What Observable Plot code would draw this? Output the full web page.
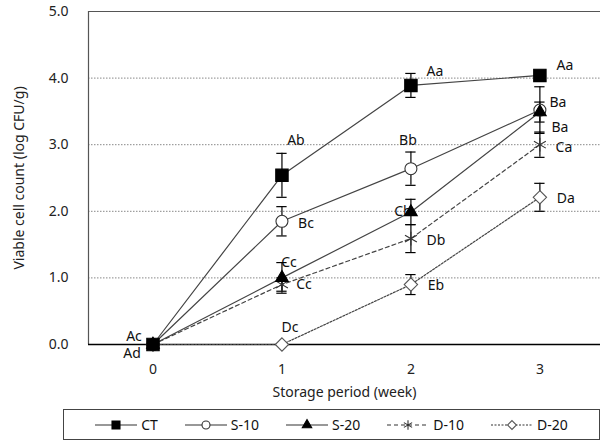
<!DOCTYPE html>
<html><head><meta charset="utf-8">
<script src="https://cdn.jsdelivr.net/npm/d3@7"></script>
<script src="https://cdn.jsdelivr.net/npm/@observablehq/plot@0.6"></script>
<style>
body{margin:0;background:#fff;font-family:"Noto Sans",sans-serif;}
#wrap{position:relative;width:602px;height:441px;overflow:hidden;}
#legend{position:absolute;left:63px;top:409px;width:537px;height:31px;border:1.5px solid #444;box-sizing:border-box;display:flex;align-items:center;justify-content:center;gap:27px;font-size:14px;color:#111;}
.item{display:flex;align-items:center;gap:4px;}
</style></head>
<body><div id="wrap"><div id="chart"></div><div id="legend"></div></div>
<script>
const weeks = [0, 1, 2, 3];
const seriesNames = ["CT", "S-10", "S-20", "D-10", "D-20"];
const meanCT  = [0, 2.54, 3.89, 4.04];
const meanS10 = [0, 1.85, 2.64, 3.52];
const meanS20 = [0, 1.00, 1.99, 3.49];
const meanD10 = [0, 0.90, 1.59, 3.00];
const meanD20 = [0, 0.00, 0.90, 2.21];
const sdCT  = [0, 0.33, 0.18, 0.05];
const sdS10 = [0, 0.22, 0.25, 0.35];
const sdS20 = [0, 0.23, 0.19, 0.15];
const sdD10 = [0, 0.10, 0.21, 0.19];
const sdD20 = [0, 0.00, 0.15, 0.21];
const lettersCT  = ["Ac", "Ab", "Aa", "Aa"];
const lettersS10 = ["", "Bc", "Bb", "Ba"];
const lettersS20 = ["", "Cc", "Cb", "Ba"];
const lettersD10 = ["", "Cc", "Db", "Ca"];
const lettersD20 = ["Ad", "Dc", "Eb", "Da"];
const yTicks = [0, 1, 2, 3, 4, 5];

const means = [meanCT, meanS10, meanS20, meanD10, meanD20];
const sds = [sdCT, sdS10, sdS20, sdD10, sdD20];
const letters = [lettersCT, lettersS10, lettersS20, lettersD10, lettersD20];

// styles
const styles = [
  {symbol: "square", r: 7, fill: "#000", stroke: "#000", dash: null, lr: 4.5},
  {symbol: "circle", r: 6, fill: "#fff", stroke: "#333", dash: null, lr: 4},
  {symbol: "triangle", r: 4.7, fill: "#000", stroke: "#000", dash: null, lr: 3.5},
  {symbol: "asterisk", r: 6.5, fill: "none", stroke: "#333", dash: "4,3", lr: 4.5},
  {symbol: "diamond2", r: 6, fill: "#fff", stroke: "#555", dash: "2,1.5", lr: 4}
];
const labelOffsets = [
  [[-19,-8],[14,-35],[24,-14],[25,-10]],
  [null,[24,2],[-3,-28],[18,-8]],
  [null,[7,-15],[-8,0],[20,15]],
  [null,[22,0],[25,2],[24,3]],
  [[-21,9],[8,-17],[25,1],[26,1]]
];

const rows = [];
seriesNames.forEach((s, i) => weeks.forEach((w, j) => rows.push({
  series: s, si: i, week: w, value: means[i][j], sd: sds[i][j], letter: letters[i][j], j
})));

const marks = [
  Plot.gridY([1,2,3,4], {stroke: "#888", strokeOpacity: 1, strokeDasharray: "1.5,1.5"}),
  Plot.ruleY([5], {stroke: "#555", strokeWidth: 1.2}),
  Plot.ruleX([-0.5], {stroke: "#555", strokeWidth: 1.2}),
  Plot.ruleY([0], {stroke: "#000", strokeWidth: 1.3}),
  Plot.axisY({ticks: yTicks, tickFormat: d3.format(".1f"), tickSize: 0, tickPadding: 20, fontSize: 14,
    label: "Viable cell count (log CFU/g)", labelAnchor: "center", labelArrow: "none", labelOffset: 74}),
  Plot.axisX({ticks: weeks, tickFormat: d3.format("d"), tickSize: 0, tickPadding: 20, fontSize: 14,
    label: "Storage period (week)", labelAnchor: "center", labelArrow: "none", labelOffset: 52})
];

// labels
rows.forEach(r => {
  const off = labelOffsets[r.si][r.j];
  if (!r.letter || !off) return;
  marks.push(Plot.text([r], {x: "week", y: "value", text: "letter", dx: off[0], dy: off[1], fontSize: 14, fill: "#111"}));
});

// lines
seriesNames.forEach((s, i) => {
  const st = styles[i];
  marks.push(Plot.line(rows.filter(r => r.si === i), {x: "week", y: "value", stroke: "#444", strokeWidth: 1.2, strokeDasharray: st.dash}));
});
// error bars
const errRows = rows.filter(r => r.sd > 0);
marks.push(Plot.ruleX(errRows, {x: "week", y1: d => d.value - d.sd, y2: d => d.value + d.sd, stroke: "#000", strokeWidth: 1.2}));
marks.push(Plot.ruleY(errRows, {y: d => d.value + d.sd, x1: d => d.week - 0.04, x2: d => d.week + 0.04, stroke: "#000", strokeWidth: 1.2}));
marks.push(Plot.ruleY(errRows, {y: d => d.value - d.sd, x1: d => d.week - 0.04, x2: d => d.week + 0.04, stroke: "#000", strokeWidth: 1.2}));
// markers: triangle over circle, CT on top
[4,3,1,2,0].forEach(i => {
  const st = styles[i];
  marks.push(Plot.dot(rows.filter(r => r.si === i), {x: "week", y: "value", symbol: st.symbol, r: st.r, fill: st.fill, stroke: st.stroke, strokeWidth: 1.1}));
});

const chart = Plot.plot({
  width: 602, height: 402,
  marginLeft: 88, marginRight: 2, marginTop: 11, marginBottom: 58,
  style: {fontFamily: "Noto Sans", fontSize: "14px", color: "#222", background: "#fff"},
  x: {domain: [-0.5, 3.47]},
  y: {domain: [0, 5]},
  marks
});
document.getElementById("chart").appendChild(chart);

// legend
const symMap = {square: d3.symbolSquare, circle: d3.symbolCircle, triangle: d3.symbolTriangle, asterisk: d3.symbolAsterisk, diamond2: d3.symbolDiamond2};
const leg = d3.select("#legend");
seriesNames.forEach((s, i) => {
  const st = styles[i];
  const it = leg.append("div").attr("class", "item");
  const svg = it.append("svg").attr("width", 42).attr("height", 16);
  svg.append("line").attr("x1", 0).attr("x2", 42).attr("y1", 8).attr("y2", 8)
    .attr("stroke", "#333").attr("stroke-width", 1.2).attr("stroke-dasharray", st.dash);
  const rr = st.lr;
  svg.append("path").attr("transform", "translate(21,8)")
    .attr("d", d3.symbol(symMap[st.symbol], rr * rr * Math.PI)())
    .attr("fill", st.fill).attr("stroke", st.stroke).attr("stroke-width", 1.1);
  it.append("span").text(s);
});
</script></body></html>
